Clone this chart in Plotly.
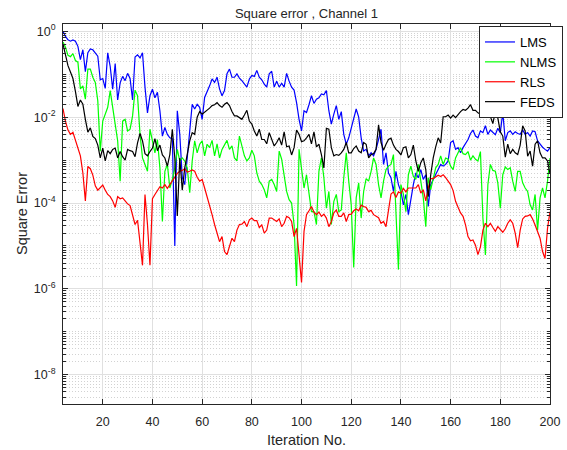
import numpy as np
import plotly.graph_objects as go

# Iteration index shown on the x axis
iterations = list(range(4, 201))

# log10 of the squared error per iteration (iterations 4..200)
lms_log = [
    0.0, -0.12, -0.2, -0.23, -0.2, -0.23, -0.35, -0.66, -0.43, -0.94,
    -0.5, -0.41, -0.43, -0.5, -0.58, -1.13, -1.1, -1.33, -0.5, -0.82,
    -1.35, -0.75, -1.6, -1.2, -1.05, -1.15, -0.98, -1.1, -1.6, -0.6,
    -0.55, -0.62, -0.5, -1.3, -1.9, -1.5, -1.35, -1.55, -1.42, -1.85,
    -2.44, -2.24, -2.4, -2.48, -2.5, -5.0, -1.85, -2.4, -3.4, -3.57,
    -2.95, -2.16, -1.7, -1.81, -1.7, -1.77, -2.05, -1.54, -1.42, -1.27,
    -1.11, -1.19, -1.07, -1.34, -1.5, -1.38, -0.99, -0.88, -1.07, -1.07,
    -0.99, -1.09, -1.15, -1.23, -1.3, -1.11, -1.03, -1.05, -0.91, -1.07,
    -1.13, -1.23, -1.3, -0.99, -0.93, -1.3, -1.16, -1.3, -1.21, -1.3,
    -0.98, -1.16, -1.3, -1.37, -1.66, -2.05, -2.32, -1.85, -1.89, -1.71,
    -1.5, -1.68, -1.58, -1.55, -1.46, -1.48, -1.38, -1.85, -2.16, -1.93,
    -1.73, -2.05, -1.87, -2.4, -2.63, -2.48, -2.24, -2.05, -1.81, -2.0,
    -2.48, -2.79, -2.75, -2.9, -2.83, -2.9, -2.75, -2.52, -2.28, -3.1,
    -2.83, -3.3, -3.41, -3.73, -3.26, -3.57, -3.73, -4.04, -3.8, -4.27,
    -3.88, -3.57, -3.3, -3.41, -3.22, -3.45, -3.34, -4.08, -3.57, -3.45,
    -3.34, -3.22, -3.1, -3.14, -3.1, -3.02, -2.59, -2.55, -2.75, -2.71,
    -2.83, -2.71, -2.62, -2.52, -2.38, -2.3, -2.44, -2.48, -2.32, -2.36,
    -2.2, -2.4, -2.3, -2.36, -2.41, -2.26, -2.36, -1.89, -2.55, -2.36,
    -2.32, -2.4, -2.34, -2.38, -2.4, -2.3, -2.4, -2.36, -2.44, -2.32,
    -2.34, -2.55, -2.63, -2.7, -2.75, -2.79, -2.71,
]

nlms_log = [
    -0.25, -0.37, -0.56, -0.59, -0.52, -0.68, -0.72, -1.34, -1.27, -1.58,
    -0.88, -0.88, -1.07, -1.19, -1.62, -2.79, -2.09, -1.93, -1.77, -1.38,
    -1.81, -2.16, -2.55, -3.49, -2.09, -2.05, -2.32, -2.28, -1.97, -1.37,
    -1.5, -2.4, -2.95, -3.1, -3.26, -2.28, -2.6, -2.83, -2.52, -3.18,
    -4.43, -3.26, -3.1, -3.65, -3.45, -3.18, -2.75, -3.02, -2.95, -3.02,
    -3.18, -3.76, -3.02, -2.55, -2.83, -2.63, -2.55, -2.9, -2.63, -2.71,
    -2.54, -2.9, -2.62, -2.95, -2.75, -2.65, -2.54, -2.75, -2.67, -2.95,
    -3.02, -2.44, -2.67, -2.9, -3.02, -2.95, -2.77, -2.9, -3.3, -3.49,
    -3.57, -3.69, -3.88, -3.49, -3.45, -3.57, -3.73, -2.79, -2.98, -3.41,
    -3.73, -3.92, -4.0, -4.5, -5.93, -2.75, -3.18, -3.65, -3.34, -3.73,
    -4.2, -4.2, -4.5, -3.26, -2.95, -3.41, -4.12, -3.73, -4.5, -3.96,
    -3.8, -4.2, -4.16, -3.41, -2.83, -3.49, -4.04, -5.5, -3.88, -3.53,
    -4.35, -3.73, -3.43, -3.49, -3.26, -2.95, -3.1, -3.57, -3.88, -3.49,
    -3.22, -3.14, -3.1, -2.87, -4.35, -5.55, -3.57, -3.8, -4.2, -3.34,
    -3.14, -3.38, -3.45, -3.1, -3.49, -3.88, -4.55, -3.41, -3.69, -3.41,
    -3.18, -3.1, -2.9, -3.1, -2.95, -2.98, -3.14, -3.22, -2.95, -2.83,
    -2.71, -2.85, -2.87, -2.8, -3.0, -2.9, -2.98, -3.02, -2.8, -4.35,
    -5.21, -3.57, -3.1, -3.24, -3.26, -3.53, -4.12, -3.34, -3.16, -3.22,
    -3.18, -3.49, -3.73, -3.26, -3.26, -3.53, -3.65, -3.73, -4.04, -4.16,
    -3.8, -4.63, -3.88, -3.65, -3.88, -3.49, -2.95,
]

rls_log = [
    -1.8, -2.1, -2.3, -2.4, -2.35, -2.55, -2.7, -2.9, -3.3, -3.95,
    -3.15, -3.2, -3.35, -3.6, -3.7, -3.65, -3.58, -3.7, -3.8, -3.85,
    -3.95, -4.1, -3.85, -3.9, -3.88, -3.95, -4.02, -4.06, -4.25, -4.5,
    -4.4, -5.0, -5.45, -3.8, -4.5, -5.45, -3.9, -3.8, -3.7, -3.62,
    -3.65, -3.57, -3.66, -3.57, -3.48, -3.38, -3.31, -3.26, -3.24, -3.2,
    -3.28, -3.26, -3.23, -3.26, -3.4, -3.49, -3.45, -3.65, -3.84, -4.04,
    -4.27, -4.5, -4.7, -4.9, -4.78, -5.13, -5.2, -5.02, -4.82, -4.9,
    -4.63, -4.5, -4.49, -4.43, -4.55, -4.39, -4.35, -4.41, -4.41, -4.57,
    -4.51, -4.7, -4.63, -4.35, -4.35, -4.39, -4.43, -4.37, -4.55, -4.47,
    -4.31, -4.34, -4.43, -4.78, -4.59, -5.21, -5.85, -4.66, -4.27, -4.18,
    -4.08, -4.21, -4.27, -4.21, -4.31, -4.26, -4.35, -4.55, -4.43, -4.23,
    -4.16, -4.31, -4.31, -4.23, -4.43, -4.27, -4.26, -4.18, -4.14, -4.18,
    -4.05, -4.08, -4.1, -4.2, -4.17, -4.27, -4.31, -4.34, -4.47, -4.43,
    -4.55, -4.16, -3.79, -3.74, -3.87, -3.74, -3.77, -3.66, -3.74, -3.65,
    -3.65, -3.65, -3.65, -3.57, -3.77, -3.69, -3.95, -3.65, -3.43, -3.43,
    -3.38, -3.35, -3.38, -3.34, -3.41, -3.49, -3.57, -3.71, -3.96, -4.1,
    -4.23, -4.31, -4.51, -4.78, -4.88, -4.86, -4.98, -5.2, -5.02, -4.63,
    -4.47, -4.55, -4.47, -4.57, -4.66, -4.55, -4.63, -4.68, -4.6, -4.47,
    -4.39, -4.47, -4.7, -5.04, -4.63, -4.37, -4.31, -4.3, -4.27, -4.37,
    -4.51, -4.65, -4.82, -5.13, -5.29, -4.59, -4.2,
]

feds_log = [
    -0.3, -0.55, -0.8, -0.95, -1.1, -1.4, -1.75, -1.6, -1.7, -2.05,
    -2.35, -2.25, -2.45, -2.5, -2.65, -2.95, -2.72, -3.02, -2.78, -2.85,
    -2.75, -2.72, -2.95, -2.8, -2.92, -3.0, -2.75, -2.78, -2.8, -2.92,
    -2.6, -2.38, -2.55, -2.85, -2.9, -2.8, -2.72, -2.5, -2.78, -2.65,
    -2.88, -2.95, -3.14, -2.87, -2.28, -2.95, -4.3, -2.95, -3.7, -3.18,
    -2.83, -2.55, -2.36, -2.4, -2.0, -1.87, -1.93, -1.89, -1.84, -1.79,
    -1.73, -1.71, -1.66, -1.73, -1.77, -1.7, -1.66, -1.73, -1.87, -1.97,
    -1.97, -2.0, -2.05, -1.95, -1.84, -2.09, -2.16, -2.32, -2.44, -2.28,
    -2.52, -2.52, -2.62, -2.36, -2.52, -2.67, -2.59, -2.48, -2.65, -2.34,
    -2.69, -2.67, -2.88, -2.71, -2.3, -2.4, -2.57, -2.55, -2.48, -2.4,
    -2.62, -2.34, -2.69, -2.63, -2.87, -3.18, -2.26, -2.28, -2.71, -2.9,
    -2.87, -2.89, -2.83, -2.75, -2.59, -2.83, -2.83, -2.73, -2.67, -2.79,
    -2.83, -2.59, -2.63, -2.95, -2.87, -2.85, -2.75, -2.18, -2.59, -2.77,
    -2.63, -2.52, -2.49, -2.65, -2.75, -2.8, -2.88, -2.71, -2.69, -2.95,
    -2.87, -2.65, -3.02, -3.26, -3.06, -2.95, -3.22, -3.85, -3.34, -2.95,
    -2.69, -2.48, -2.6, -1.99, -1.99, -1.95, -2.02, -1.95, -2.01, -1.93,
    -1.87, -1.82, -1.84, -1.79, -1.71, -1.84, -1.84, -1.9, -1.93, -1.82,
    -1.91, -1.82, -1.99, -2.15, -1.87, -2.02, -2.34, -2.44, -2.93, -2.63,
    -2.85, -2.75, -2.83, -2.87, -2.65, -2.2, -2.32, -2.91, -2.79, -3.14,
    -2.63, -2.55, -2.83, -2.95, -2.95, -3.02, -3.32,
]

series_names = ["LMS", "NLMS", "RLS", "FEDS"]
series_logs = [lms_log, nlms_log, rls_log, feds_log]
series_colors = ["#0000ff", "#00ff00", "#ff0000", "#000000"]

x_ticks = [20, 40, 60, 80, 100, 120, 140, 160, 180, 200]
y_exponents = [-8, -6, -4, -2, 0]

FONT = "Liberation Sans, Arial, Helvetica, sans-serif"
AXIS_COLOR = "#262626"

fig = go.Figure()
for name, logs, color in zip(series_names, series_logs, series_colors):
    fig.add_trace(go.Scatter(
        x=iterations,
        y=10.0 ** np.array(logs),
        mode="lines",
        name=name,
        line=dict(color=color, width=1.2),
    ))

# decade ticks carry labels; 1..9 multiples (and odd decades) are minor ticks
major_vals = [10.0 ** e for e in y_exponents]
major_text = ["10<sup>%d</sup>" % e for e in y_exponents]
minor_vals = []
for e in range(-9, 1):
    for m in range(1, 10):
        if m == 1 and e in y_exponents:
            continue
        minor_vals.append(m * 10.0 ** e)

fig.update_layout(
    width=567,
    height=450,
    paper_bgcolor="white",
    plot_bgcolor="white",
    margin=dict(l=63, r=17, t=24, b=46, autoexpand=False),
    font=dict(family=FONT, color=AXIS_COLOR),
    title=dict(
        text="Square error , Channel 1",
        x=0.5, xref="paper", xanchor="center",
        y=1 - 13 / 450, yref="container", yanchor="middle",
        font=dict(size=13, color=AXIS_COLOR, family=FONT),
    ),
    showlegend=True,
    legend=dict(
        x=(563 - 63) / 487, y=(404 - 26) / 380, xanchor="right", yanchor="top",
        bgcolor="white", bordercolor=AXIS_COLOR, borderwidth=1,
        font=dict(size=13, color="#000000", family=FONT),
        tracegroupgap=0,
    ),
)

fig.update_xaxes(
    range=[4, 200],
    tickvals=x_ticks,
    ticks="inside", ticklen=5, tickcolor=AXIS_COLOR,
    showline=True, linecolor=AXIS_COLOR, linewidth=1, mirror="allticks",
    showgrid=True, gridcolor="#e0e0e0", gridwidth=1,
    zeroline=False,
    tickfont=dict(size=12.5, color=AXIS_COLOR, family=FONT),
    ticklabelstandoff=6,
)

fig.update_yaxes(
    type="log",
    range=[-8.68, 0.17],
    tickvals=major_vals,
    ticktext=major_text,
    ticks="inside", ticklen=5, tickcolor=AXIS_COLOR,
    showline=True, linecolor=AXIS_COLOR, linewidth=1, mirror="allticks",
    showgrid=True, gridcolor="#e0e0e0", gridwidth=1,
    zeroline=False,
    tickfont=dict(size=12.5, color=AXIS_COLOR, family=FONT),
    ticklabelstandoff=4,
    minor=dict(
        tickvals=minor_vals,
        ticks="inside", ticklen=3, tickcolor=AXIS_COLOR,
        showgrid=True, gridcolor="#d2d2d2", griddash="1px,2px", gridwidth=1,
    ),
)

fig.add_annotation(
    text="Iteration No.", xref="paper", yref="paper",
    x=0.5, y=-(440 - 404) / 380, xanchor="center", yanchor="middle",
    showarrow=False, font=dict(size=14.5, color=AXIS_COLOR, family=FONT),
)
fig.add_annotation(
    text="Square Error", xref="paper", yref="paper",
    x=-(63 - 22) / 487, y=0.5, xanchor="center", yanchor="middle",
    textangle=-90, showarrow=False,
    font=dict(size=14.5, color=AXIS_COLOR, family=FONT),
)

fig.write_html("out.html")
